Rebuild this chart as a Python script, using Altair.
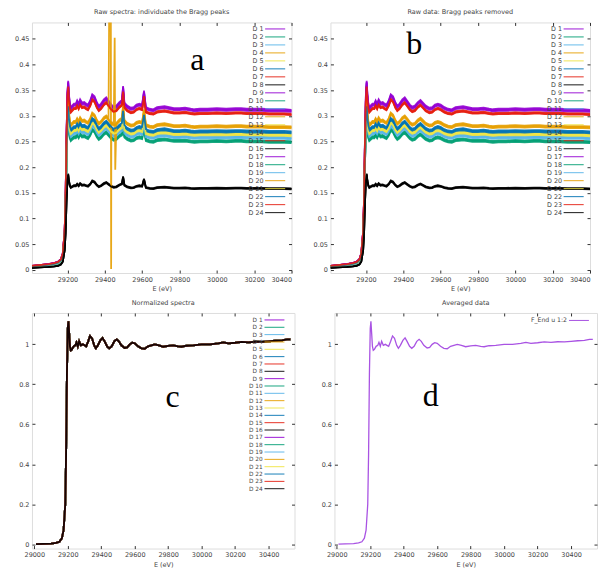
import altair as alt
import pandas as pd

# ---------------- data ----------------
energy = [29010, 29050, 29100, 29130, 29150, 29165, 29175, 29185, 29190, 29195,
          29200, 29204, 29208, 29213, 29218, 29225, 29235, 29245, 29252, 29260,
          29268, 29278, 29290, 29300, 29310, 29322, 29333, 29345, 29358, 29368,
          29380, 29395, 29408, 29420, 29435, 29448, 29462, 29478, 29492, 29505,
          29520, 29540, 29555, 29570, 29585, 29600, 29620, 29640, 29660, 29680,
          29700, 29720, 29745, 29770, 29800, 29830, 29860, 29880, 29910, 29950,
          30000, 30050, 30100, 30130, 30160, 30200, 30240, 30280, 30320, 30360,
          30400, 30440, 30480, 30510, 30530]

# raw spectrum of detector D 1 (top curve of panel b)
raw_d1 = [0.0080, 0.0095, 0.0115, 0.0135, 0.0160, 0.0210, 0.0320, 0.0750, 0.1400, 0.2600,
          0.3450, 0.3660, 0.3400, 0.3220, 0.3150, 0.3180, 0.3220, 0.3220, 0.3280, 0.3220,
          0.3300, 0.3240, 0.3250, 0.3220, 0.3200, 0.3280, 0.3400, 0.3360, 0.3240, 0.3180,
          0.3220, 0.3300, 0.3340, 0.3280, 0.3200, 0.3160, 0.3180, 0.3250, 0.3290, 0.3240,
          0.3180, 0.3140, 0.3150, 0.3200, 0.3220, 0.3200, 0.3150, 0.3120, 0.3110, 0.3150,
          0.3160, 0.3170, 0.3150, 0.3130, 0.3130, 0.3140, 0.3120, 0.3110, 0.3120, 0.3120,
          0.3130, 0.3120, 0.3130, 0.3130, 0.3120, 0.3120, 0.3120, 0.3110, 0.3110, 0.3110,
          0.3100, 0.3100, 0.3100, 0.3100, 0.3100]

# normalized / averaged spectrum (panels c and d)
norm_avg = [0.000, 0.001, 0.003, 0.006, 0.012, 0.030, 0.070, 0.200, 0.450, 0.850,
            1.080, 1.115, 1.060, 0.990, 0.970, 0.975, 0.990, 0.995, 1.010, 0.990,
            1.015, 0.995, 1.000, 0.995, 0.990, 1.015, 1.042, 1.030, 0.995, 0.980,
            0.995, 1.020, 1.032, 1.015, 0.990, 0.980, 0.990, 1.015, 1.025, 1.015,
            0.995, 0.982, 0.985, 1.000, 1.008, 1.005, 0.990, 0.980, 0.978, 0.990,
            0.995, 1.000, 0.995, 0.988, 0.992, 0.995, 0.990, 0.988, 0.993, 0.995,
            1.000, 1.000, 1.005, 1.010, 1.005, 1.008, 1.012, 1.010, 1.013, 1.012,
            1.015, 1.018, 1.020, 1.025, 1.025]

detectors = [f"D {i}" for i in range(1, 25)]
# post-edge level of each detector (around 29250 eV)
levels = [0.324, 0.262, 0.270, 0.290, 0.276, 0.280, 0.318, 0.166,
          0.322, 0.258, 0.268, 0.288, 0.274, 0.278, 0.315, 0.165,
          0.326, 0.260, 0.266, 0.292, 0.272, 0.282, 0.316, 0.164]
palette = ["#9400d3", "#009e73", "#56b4e9", "#e69f00",
           "#f0e442", "#0072b2", "#e51e10", "#000000"]
det_colors = palette * 3

# Bragg peaks (panel a), values for D 1
bragg_energy = [29498, 29610]
bragg_d1 = [0.356, 0.347]
# strong glitch of one detector (panel a)
glitch_detector = "D 20"
glitch_energy = [29431, 29434, 29453, 29456]
glitch_values = [0.95, 0.002, 0.452, 0.195]

avg_label = "F_End u 1:2"
avg_color = "#a040e0"

titles = ["Raw spectra: individuate the Bragg peaks", "Raw data: Bragg peaks removed",
          "Normalized spectra", "Averaged data"]
letters = ["a", "b", "c", "d"]
letter_pos = [(29895, 0.3885), (29459, 0.4215), (29827, 0.687), (29562, 0.69)]

# ---------------- tables ----------------
rows_a, rows_b, rows_c = [], [], []
for d, lev in zip(detectors, levels):
    f = lev / levels[0]
    for e, r, n in zip(energy, raw_d1, norm_avg):
        rows_a.append({"E": e, "mu": r * f, "det": d})
        rows_b.append({"E": e, "mu": r * f, "det": d})
        rows_c.append({"E": e, "mu": n, "det": d})
    for e, v in zip(bragg_energy, bragg_d1):
        rows_a.append({"E": e, "mu": v * f, "det": d})
    if d == glitch_detector:
        for e, v in zip(glitch_energy, glitch_values):
            rows_a.append({"E": e, "mu": v, "det": d})
df_a = pd.DataFrame(rows_a)
df_b = pd.DataFrame(rows_b)
df_c = pd.DataFrame(rows_c)
df_d = pd.DataFrame({"E": energy, "mu": norm_avg, "det": avg_label})

FONT = "DejaVu Sans"
LBL = "#444"


def panel(df, title, xdom, ydom, xticks, yticks, w, h, dom, rng, letter, lpos,
          lx, ly, rowpad, lsize, sw, ksize, kpath):
    xs = alt.Scale(domain=xdom, nice=False, zero=False)
    ys = alt.Scale(domain=ydom, nice=False, zero=False)
    common = dict(offset=-3, tickSize=3, domain=False, grid=False, tickColor="#333",
                  labelFont=FONT, labelFontSize=6.5, labelColor=LBL, labelPadding=3)
    lines = alt.Chart(df).mark_line(clip=True, strokeWidth=sw, opacity=0.9).encode(
        x=alt.X("E:Q", scale=xs,
                axis=alt.Axis(values=xticks, format="d", title="E (eV)", titleFont=FONT,
                              titleFontSize=6.5, titleColor=LBL, titleFontWeight="normal",
                              titlePadding=3, **common)),
        y=alt.Y("mu:Q", scale=ys,
                axis=alt.Axis(values=yticks, format="~g", title=None,
                              minExtent=20, maxExtent=20, **common)),
        color=alt.Color("det:N", scale=alt.Scale(domain=dom, range=rng),
                        legend=alt.Legend(title=None, orient="none", legendX=lx, legendY=ly,
                                          symbolType=kpath, symbolSize=ksize,
                                          symbolStrokeWidth=1,
                                          rowPadding=rowpad, labelFont=FONT,
                                          labelFontSize=lsize, labelColor=LBL,
                                          labelAlign="right", labelOffset=0,
                                          symbolOffset=0, padding=0)),
    )
    mirror = alt.Chart(df.head(2)).mark_line(opacity=0).encode(
        x=alt.X("E:Q", scale=xs,
                axis=alt.Axis(orient="top", values=xticks, labels=False, title=None, **common)),
        y=alt.Y("mu:Q", scale=ys,
                axis=alt.Axis(orient="right", values=yticks, labels=False, title=None, **common)),
    )
    ldf = pd.DataFrame({"E": [lpos[0]], "mu": [lpos[1]], "t": [letter]})
    txt = alt.Chart(ldf).mark_text(font="Liberation Serif", fontSize=32, align="center",
                                   baseline="alphabetic", color="black").encode(
        x=alt.X("E:Q", scale=xs, axis=None),
        y=alt.Y("mu:Q", scale=ys, axis=None),
        text="t:N",
    )
    return alt.layer(lines, mirror, txt).resolve_axis(x="independent", y="independent").properties(
        width=w, height=h,
        title=alt.Title(title, font=FONT, fontSize=6.5, color=LBL, fontWeight="normal", offset=6),
    )


raw_xt = [29200, 29400, 29600, 29800, 30000, 30200, 30400]
raw_yt = [0, 0.05, 0.1, 0.15, 0.2, 0.25, 0.3, 0.35, 0.4, 0.45]
norm_xt = [29000, 29200, 29400, 29600, 29800, 30000, 30200, 30400]
norm_yt = [0, 0.2, 0.4, 0.6, 0.8, 1]

# legend keys: a short stroke drawn to the right of its small symbol box,
# so that the right-aligned label sits on its left, as gnuplot does
KEY_A = "M1.55,0H6.7"     # r ~ 3.9 -> 20 px stroke
KEY_C = "M1.7,0H7.4"      # r = 3.5 -> 20 px stroke

pa = panel(df_a, titles[0], [29010, 30400], [-0.006, 0.482], raw_xt, raw_yt, 260, 251,
           detectors, det_colors, letters[0], letter_pos[0], 223, 2.0, 0.0, 6.4, 1.8, 61, KEY_A)
pb = panel(df_b, titles[1], [29010, 30400], [-0.006, 0.482], raw_xt, raw_yt, 260, 251,
           detectors, det_colors, letters[1], letter_pos[1], 223, 2.0, 0.0, 6.4, 1.8, 61, KEY_A)
pc = panel(df_c, titles[2], [28986, 30555], [-0.022, 1.157], norm_xt, norm_yt, 263, 236,
           detectors, det_colors, letters[2], letter_pos[2], 223, 3.0, 0.35, 5.8, 1.8, 49, KEY_C)
pd_ = panel(df_d, titles[3], [28986, 30555], [-0.022, 1.157], norm_xt, norm_yt, 263, 236,
            [avg_label], [avg_color], letters[3], letter_pos[3], 225, 3.5, 0.0, 6.2, 1.3, 49, KEY_C)

indep = dict(x="independent", y="independent", color="independent")
top = alt.hconcat(pa, pb, spacing=39, bounds="flush").resolve_scale(**indep).resolve_legend(color="independent")
bottom = alt.hconcat(pc, pd_, spacing=40, bounds="flush").resolve_scale(**indep).resolve_legend(color="independent")
chart = alt.vconcat(top, bottom, spacing=6).resolve_scale(**indep).resolve_legend(
    color="independent").properties(
    padding={"left": 6, "top": 0, "right": 0, "bottom": 0}
).configure_view(stroke="#333", strokeWidth=1).configure(background="white")

chart.save("out.html", embed_options={"renderer": "svg", "actions": False})
